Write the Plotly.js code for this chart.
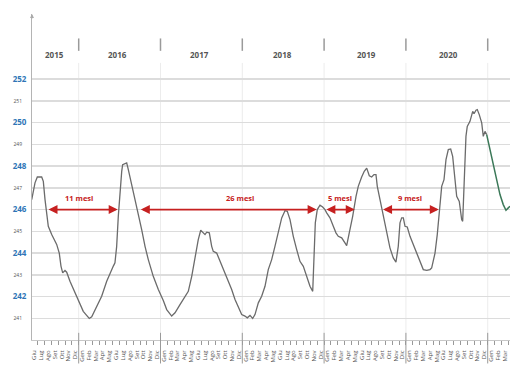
<!DOCTYPE html>
<html>
<head>
<meta charset="utf-8">
<script src="https://cdn.plot.ly/plotly-3.0.1.min.js"></script>
<style>html,body{margin:0;padding:0;background:#fff;}#chart{width:510px;height:374px;}</style>
</head>
<body>
<div id="chart"></div>
<script>
// x values: months since 1 Jan 2015 (0 = Jan 2015)
const months = [5.11,5.59,5.93,6.57,6.81,7.06,7.54,8.04,8.77,9.15,9.40,9.65,9.99,10.24,10.72,11.46,12.19,12.67,13.07,13.55,13.91,14.64,15.37,16.11,16.59,17.08,17.32,17.57,17.81,18.06,18.31,18.45,18.79,19.04,19.28,19.77,20.26,20.74,21.24,21.73,22.21,22.94,23.68,24.41,24.91,25.64,26.13,26.86,27.59,28.08,28.58,29.06,29.54,29.90,30.19,30.53,30.78,31.16,31.51,31.74,32.24,32.73,33.21,33.71,34.44,34.93,35.41,35.91,36.39,36.73,37.13,37.52,37.86,38.35,38.84,39.33,39.81,40.31,40.79,41.28,41.78,42.26,42.60,43.00,43.48,43.98,44.46,44.95,45.45,45.93,46.33,46.52,46.71,47.00,47.40,47.79,48.13,48.38,48.86,49.35,49.74,50.08,50.58,51.06,51.31,51.69,52.19,52.68,53.01,53.51,53.89,54.25,54.63,54.98,55.32,55.61,55.80,56.20,56.68,57.18,57.66,58.15,58.54,58.88,59.13,59.38,59.62,59.87,60.20,60.60,61.08,61.58,62.07,62.55,63.05,63.53,63.78,64.27,64.60,65.00,65.25,65.59,65.88,66.22,66.57,66.86,67.20,67.45,67.83,68.18,68.33,68.52,68.81,69.00,69.40,69.80,69.99,70.28,70.47,70.76,71.12,71.35,71.60,71.85];
const level = [246.46,247.23,247.50,247.50,247.30,246.46,245.23,244.85,244.40,244.00,243.40,243.09,243.20,243.12,242.70,242.17,241.63,241.32,241.17,240.99,241.07,241.55,242.01,242.70,243.09,243.40,243.55,244.31,245.69,246.92,247.76,248.07,248.10,248.15,247.84,247.15,246.61,245.85,245.08,244.31,243.70,242.93,242.32,241.82,241.40,241.10,241.25,241.63,242.01,242.24,242.93,243.85,244.62,245.05,244.96,244.85,244.96,244.93,244.31,244.08,244.00,243.62,243.32,242.86,242.32,241.86,241.48,241.17,241.10,241.02,241.13,240.99,241.17,241.71,242.01,242.47,243.24,243.70,244.31,245.00,245.62,245.95,245.92,245.54,244.77,244.16,243.62,243.39,242.93,242.47,242.24,243.70,245.39,246.00,246.20,246.12,246.00,245.85,245.62,245.23,244.93,244.77,244.70,244.47,244.34,244.93,245.69,246.61,247.07,247.50,247.76,247.91,247.56,247.50,247.61,247.61,247.07,246.46,245.77,244.93,244.24,243.78,243.58,244.31,245.39,245.62,245.62,245.23,245.20,244.77,244.39,243.93,243.55,243.24,243.20,243.24,243.32,244.00,244.85,246.31,247.07,247.38,248.30,248.76,248.79,248.45,247.53,246.61,246.38,245.54,245.46,246.92,249.37,249.83,250.06,250.52,250.41,250.57,250.60,250.37,249.99,249.37,249.60,249.45];
const forecastMonths = [71.85,72.33,72.82,73.32,73.80,74.28,74.68,75.02,75.27];
const forecastLevel = [249.45,248.76,247.99,247.30,246.69,246.23,245.97,246.08,246.15];

const monthNames = ['Gen','Feb','Mar','Apr','Mag','Giu','Lug','Ago','Set','Ott','Nov','Dic'];
const years = ['2015','2016','2017','2018','2019','2020'];
const yearCenters = [8.4,17.7,29.7,41.9,54.2,66.3];
const yearBounds = [12,24,36,48,60,72];
const evenTicks = [242,244,246,248,250,252];
const oddTicks = [241,243,245,247,249,251];

const spanLabels = ['11 mesi','26 mesi','5 mesi','9 mesi'];
const spanStart = [7.35,20.89,48.11,56.43];
const spanEnd = [17.72,46.90,52.50,64.83];
const spanLevel = 246;
const spanLabelX = [12.1,35.6,50.3,60.6];

const xMin = 5.15, xMax = 75.27;

const tickvals = [], ticktext = [], bounds = [];
for (let m = 5; m <= 74; m++) { tickvals.push(m + 0.5); ticktext.push(monthNames[m % 12]); }
for (let m = 6; m <= 75; m++) bounds.push(m);

const traces = [
  {x: months, y: level, type: 'scatter', mode: 'lines', line: {color: '#6b6b6b', width: 1.3}, hoverinfo: 'skip', showlegend: false},
  {x: forecastMonths, y: forecastLevel, type: 'scatter', mode: 'lines', line: {color: '#3b7858', width: 1.5}, hoverinfo: 'skip', showlegend: false},
  {x: [null], y: [null], yaxis: 'y2', type: 'scatter', mode: 'lines', hoverinfo: 'skip', showlegend: false}
];

const shapes = [];
yearBounds.forEach(b => {
  shapes.push({type: 'line', xref: 'x', yref: 'paper', x0: b, x1: b, y0: 0, y1: 0.85, line: {color: '#ececec', width: 1}, layer: 'below'});
  shapes.push({type: 'line', xref: 'x', yref: 'paper', x0: b, x1: b, y0: 0.887, y1: 0.925, line: {color: '#9a9a9a', width: 1.5}});
  shapes.push({type: 'line', xref: 'x', yref: 'paper', x0: b, x1: b, y0: 0.022, y1: -0.072, line: {color: '#9a9a9a', width: 1}});
});

const annotations = [];
years.forEach((yr, i) => {
  annotations.push({x: yearCenters[i], xref: 'x', y: 0.899, yref: 'paper', text: yr, showarrow: false,
    font: {family: 'Open Sans', size: 8, color: '#555', weight: 700}});
});
spanLabels.forEach((t, i) => {
  annotations.push({x: spanEnd[i], y: spanLevel, ax: spanStart[i], ay: spanLevel, xref: 'x', yref: 'y', axref: 'x', ayref: 'y',
    text: '', showarrow: true, arrowside: 'end+start', arrowhead: 2, arrowsize: 1, arrowwidth: 1.8, arrowcolor: '#c62020'});
  annotations.push({x: spanLabelX[i], y: spanLevel + 0.55, xref: 'x', yref: 'y', text: t, showarrow: false,
    font: {family: 'Open Sans', size: 7.5, color: '#c62020', weight: 700}});
});
annotations.push({x: 0, y: 1, xref: 'paper', yref: 'paper', ax: 0, ay: 6, text: '', showarrow: true, arrowhead: 2, arrowsize: 0.8, arrowwidth: 1, arrowcolor: '#aaa'});

const layout = {
  width: 510, height: 374,
  margin: {l: 32, r: 0, t: 14, b: 34, pad: 0},
  paper_bgcolor: '#fff', plot_bgcolor: '#fff',
  font: {family: 'Open Sans'},
  showlegend: false,
  xaxis: {
    range: [xMin, xMax], showgrid: false, zeroline: false,
    showline: true, linecolor: '#c8c8c8', linewidth: 1,
    tickmode: 'array', tickvals: tickvals, ticktext: ticktext, ticks: '',
    tickangle: -90, tickfont: {family: 'Open Sans', size: 6, color: '#555'}, ticklabelstandoff: 7,
    minor: {tickmode: 'array', tickvals: bounds, ticks: 'outside', ticklen: 4, tickwidth: 1, tickcolor: '#999', showgrid: false}
  },
  yaxis: {
    range: [240, 255], zeroline: false,
    tickmode: 'array', tickvals: evenTicks, ticktext: evenTicks.map(String), ticks: '',
    tickfont: {family: 'Open Sans', size: 8, color: '#2e75b6', weight: 700}, ticklabelstandoff: 3,
    showgrid: true, gridcolor: '#dcdcdc', gridwidth: 1.5,
    showline: true, linecolor: '#b4b4b4', linewidth: 1
  },
  yaxis2: {
    range: [240, 255], overlaying: 'y', side: 'left', zeroline: false,
    tickmode: 'array', tickvals: oddTicks, ticktext: oddTicks.map(String), ticks: '',
    tickfont: {family: 'Open Sans', size: 5, color: '#555'}, ticklabelstandoff: 9,
    showgrid: true, gridcolor: '#dcdcdc', gridwidth: 1.5, showline: false
  },
  shapes: shapes,
  annotations: annotations
};

Plotly.newPlot('chart', traces, layout, {staticPlot: true, displayModeBar: false});
</script>
</body>
</html>
